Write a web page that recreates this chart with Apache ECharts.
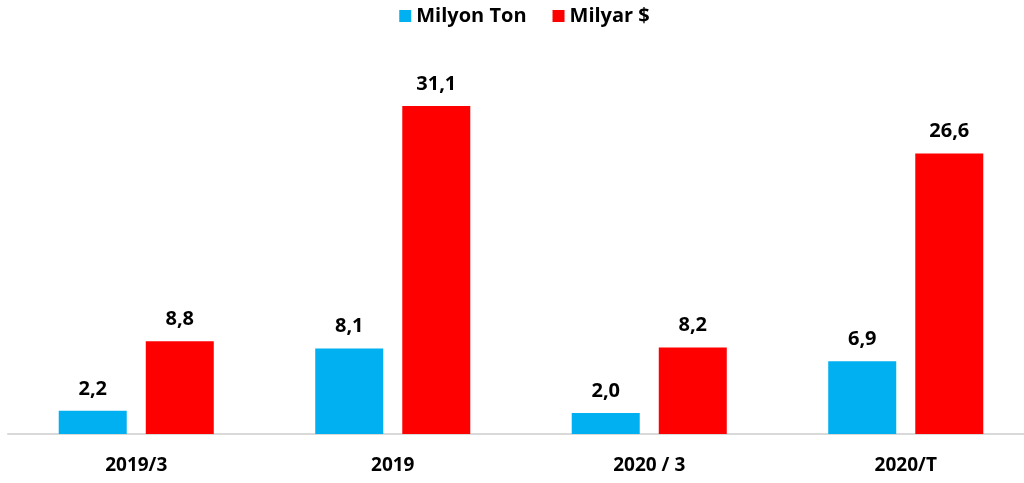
<!DOCTYPE html>
<html><head><meta charset="utf-8">
<script src="https://cdn.jsdelivr.net/npm/echarts@6/dist/echarts.min.js"></script>
<style>html,body{margin:0;padding:0;background:#fff;overflow:hidden}#c{width:1049px;height:483px}</style>
</head><body><div id="c"></div>
<script>
const categories = ['2019/3', '2019', '2020 / 3', '2020/T'];
const milyonTon = [2.2, 8.1, 2.0, 6.9];
const milyarDolar = [8.8, 31.1, 8.2, 26.6];
const seriesNames = ['Milyon Ton', 'Milyar $'];

const FONT = 'Open Sans';
const chart = echarts.init(document.getElementById('c'));
const fmt = p => p.value.toFixed(1).replace('.', ',');
chart.setOption({
  animation: false,
  textStyle: { fontFamily: FONT },
  legend: {
    top: 1, left: 'center', itemWidth: 12, itemHeight: 12, itemGap: 26,
    icon: 'rect',
    textStyle: { fontFamily: FONT, fontWeight: 'bold', fontSize: 20, color: '#000' },
    data: seriesNames
  },
  grid: { left: 8, right: 15, top: 65, bottom: 49, containLabel: false },
  xAxis: {
    type: 'category', data: categories,
    axisLine: { lineStyle: { color: '#d9d9d9', width: 2 } },
    axisTick: { show: false },
    axisLabel: { fontFamily: FONT, fontWeight: 'bold', fontSize: 19, color: '#000', margin: 22 }
  },
  yAxis: { type: 'value', min: 0, max: 35, show: false, splitLine: { show: false } },
  series: [
    { name: seriesNames[0], type: 'bar', data: milyonTon, barWidth: 68, barGap: '28%',
      itemStyle: { color: '#00b0f0' },
      label: { show: true, position: 'top', distance: 12, formatter: fmt,
        fontFamily: FONT, fontWeight: 'bold', fontSize: 20, color: '#000' } },
    { name: seriesNames[1], type: 'bar', data: milyarDolar, barWidth: 68,
      itemStyle: { color: '#ff0000' },
      label: { show: true, position: 'top', distance: 12, formatter: fmt,
        fontFamily: FONT, fontWeight: 'bold', fontSize: 20, color: '#000' } }
  ]
});
</script></body></html>
